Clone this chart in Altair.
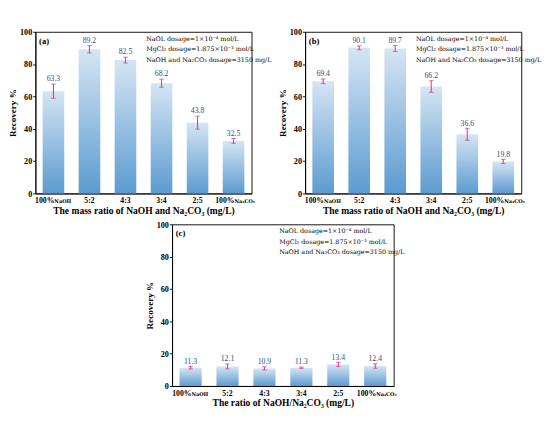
import altair as alt
import pandas as pd

cats = ["100%NaOH", "5:2", "4:3", "3:4", "2:5", "100%Na2CO3"]
main_lbl = ["100%", "5:2", "4:3", "3:4", "2:5", "100%"]
sub_lbl = ["NaOH", "", "", "", "", "Na₂CO₃"]

a_vals = [63.3, 89.2, 82.5, 68.2, 43.8, 32.5]
a_err = [4.4, 2.3, 1.8, 2.5, 4.0, 1.5]
b_vals = [69.4, 90.1, 89.7, 66.2, 36.6, 19.8]
b_err = [1.4, 1.2, 1.8, 3.6, 3.7, 1.3]
c_vals = [11.3, 12.1, 10.9, 11.3, 13.4, 12.4]
c_err = [0.8, 1.5, 1.0, 0.4, 1.3, 1.4]

note = "NaOL dosage=1×10⁻⁴ mol/L\nMgCl₂ dosage=1.875×10⁻³ mol/L\nNaOH and Na₂CO₃ dosage=3150 mg/L"
title_ab = "The mass ratio of NaOH and Na₂CO₃ (mg/L)"
title_c = "The ratio of NaOH/Na₂CO₃ (mg/L)"

FONT = "Liberation Serif"
NOTE_FONT = "DejaVu Serif"
BAR_GRAD = alt.Gradient(
    gradient="linear",
    stops=[alt.GradientStop(color="#d5e5f4", offset=0),
           alt.GradientStop(color="#5c9bd0", offset=1)],
    x1=0, x2=0, y1=0, y2=1,
)
ERR_COLOR = "#e0408a"
LBL_COLOR = "#1f4f86"

Y_SCALE = alt.Scale(domain=[0, 100], nice=False)


def panel(vals, errs, letter, xtitle, w, h, note_x):
    df = pd.DataFrame({
        "cat": cats, "v": vals,
        "lo": [v - e for v, e in zip(vals, errs)],
        "hi": [v + e for v, e in zip(vals, errs)],
        "lab": [f"{v:.1f}" for v in vals],
        "main": main_lbl, "sub": sub_lbl,
    })
    x = alt.X("cat:N", sort=cats, scale=alt.Scale(paddingInner=0.4, paddingOuter=0.2),
              axis=alt.Axis(labels=False, ticks=False, title=xtitle, titlePadding=14,
                            titleFont=FONT, titleFontSize=10.5, titleFontWeight="bold"))
    xs = alt.X("cat:N", sort=cats)
    y_axis = alt.Axis(tickCount=5, labelOverlap=False, title="Recovery %",
                      titleFont=FONT, titleFontSize=10, titleFontWeight="bold",
                      titlePadding=2, labelFont=FONT, labelFontSize=9,
                      labelFontWeight="bold", labelPadding=1, tickSize=3)

    base = alt.Chart(df)
    bars = base.mark_bar(color=BAR_GRAD).encode(
        x=x, y=alt.Y("v:Q", scale=Y_SCALE, axis=y_axis))
    rule = base.mark_rule(color=ERR_COLOR, strokeWidth=1.2).encode(
        x=xs, y="lo:Q", y2="hi:Q")
    cap_hi = base.mark_tick(color=ERR_COLOR, orient="horizontal", size=5, thickness=1.2).encode(
        x=xs, y="hi:Q")
    cap_lo = base.mark_tick(color=ERR_COLOR, orient="horizontal", size=5, thickness=1.2).encode(
        x=xs, y="lo:Q")
    vlab = base.mark_text(font=FONT, fontSize=8.5, color=LBL_COLOR, baseline="bottom", dy=-1).encode(
        x=xs, y="hi:Q", text="lab:N")
    tl_plain = base.transform_filter("datum.sub == ''").mark_text(
        font=FONT, fontSize=8.5, fontWeight="bold", baseline="top", dy=4, color="black").encode(
        x=xs, y=alt.value(h), text="main:N")
    tl_main = base.transform_filter("datum.sub != ''").mark_text(
        font=FONT, fontSize=8.5, fontWeight="bold", baseline="top", align="right", dy=4, dx=1,
        color="black").encode(x=xs, y=alt.value(h), text="main:N")
    tl_sub = base.transform_filter("datum.sub != ''").mark_text(
        font=NOTE_FONT, fontSize=5.5, fontWeight="bold", baseline="top", align="left", dy=7, dx=1,
        color="black").encode(x=xs, y=alt.value(h), text="sub:N")
    letter_t = alt.Chart(pd.DataFrame({"t": [letter]})).mark_text(
        font=FONT, fontSize=9.5, fontWeight="bold", align="left", baseline="top", color="black").encode(
        x=alt.value(4), y=alt.value(5), text="t:N")
    note_t = alt.Chart(pd.DataFrame({"t": [note]})).mark_text(
        font=NOTE_FONT, fontSize=7, align="left", baseline="top", lineBreak="\n", lineHeight=11.5,
        color="black").encode(x=alt.value(note_x), y=alt.value(4), text="t:N")
    return alt.layer(bars, rule, cap_hi, cap_lo, vlab, tl_plain, tl_main, tl_sub, letter_t, note_t
                     ).properties(width=w, height=h)


pa = panel(a_vals, a_err, "(a)", title_ab, 238, 178, 122)
pb = panel(b_vals, b_err, "(b)", title_ab, 238, 178, 122)
pc = panel(c_vals, c_err, "(c)", title_c, 244, 178, 118)

chart = alt.vconcat(
    alt.hconcat(pa, pb, spacing=6),
    pc,
    spacing=4, center=True,
).properties(padding=0).configure_view(stroke="black", strokeWidth=1).configure_axis(
    grid=False, domainColor="black", tickColor="black", labelColor="black", titleColor="black"
)

chart.save("out.html", embed_options={"renderer": "svg", "actions": False})
